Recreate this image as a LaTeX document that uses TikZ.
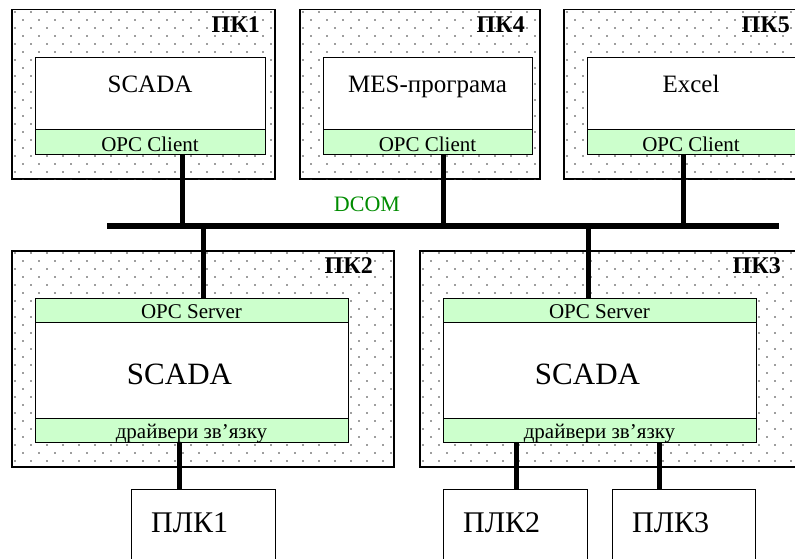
\documentclass[tikz,border=0pt]{standalone}
\usepackage{fontspec}
\setmainfont{Liberation Serif}
\usetikzlibrary{calc}
\definecolor{band}{RGB}{204,255,204}
\definecolor{dcomc}{RGB}{0,140,0}
\definecolor{dotc}{RGB}{60,60,60}
\tikzset{
  pcbox/.style={draw, line width=1.5pt, fill=white, inner sep=0pt, anchor=north west},
  appbox/.style={draw, line width=1.3pt, fill=white, inner sep=0pt, anchor=north west},
  bandbox/.style={draw, line width=1.3pt, fill=band, inner sep=0pt, anchor=north west},
  plcbox/.style={draw, line width=1.3pt, fill=white, inner sep=0pt, anchor=north west, minimum width=144pt, minimum height=120pt},
  conn/.style={line width=5pt},
  busline/.style={line width=6pt},
  pclabel/.style={font=\bfseries\fontsize{24}{24}\selectfont, inner sep=0pt, anchor=base east},
  apptxt/.style={font=\fontsize{25}{25}\selectfont, inner sep=0pt, anchor=base},
  bigtxt/.style={font=\fontsize{31}{31}\selectfont, inner sep=0pt, anchor=base},
  bandtxt/.style={font=\fontsize{21}{21}\selectfont, inner sep=0pt, anchor=base},
  plctxt/.style={font=\fontsize{30}{30}\selectfont, inner sep=0pt, anchor=base west},
}
% dots: node name, x0, y0, nx, ny
\newcommand\dotsin[5]{%
  \begin{scope}
    \clip (#1.north west) rectangle (#1.south east);
    \foreach \j in {0,...,#5} {
      \pgfmathsetmacro\yy{#3+3+8*\j}
      \pgfmathsetmacro\off{mod(\j,2)*8}
      \foreach \i in {0,...,#4} {
        \fill[dotc] ({#2+4+16*\i+\off},\yy) circle[radius=0.85pt];
      }
    }
  \end{scope}}
\begin{document}
\begin{tikzpicture}[x=1pt,y=-1pt]
\useasboundingbox (0,0) rectangle (795,559);
\clip (0,0) rectangle (795,559);

% ---- top row PCs ----
\node[pcbox, minimum width=263pt, minimum height=169pt] (pc1) at (11,9) {};
\dotsin{pc1}{11}{9}{16}{21}
\node[pcbox, minimum width=240pt, minimum height=169pt] (pc4) at (299,9) {};
\dotsin{pc4}{299}{9}{15}{21}
\node[pcbox, minimum width=241pt, minimum height=169pt] (pc5) at (563,9) {};
\dotsin{pc5}{563}{9}{15}{21}

\node[pclabel] (l1) at (260,33) {ПК1};
\node[pclabel] (l4) at (525,33) {ПК4};
\node[pclabel] (l5) at (790,33) {ПК5};

\node[appbox, minimum width=230pt, minimum height=72pt] (a1) at (35,57) {};
\node[bandbox, minimum width=230pt, minimum height=25pt] (c1) at (35,129) {};
\node[appbox, minimum width=209pt, minimum height=72pt] (a4) at (323,57) {};
\node[bandbox, minimum width=209pt, minimum height=25pt] (c4) at (323,129) {};
\node[appbox, minimum width=210pt, minimum height=72pt] (a5) at (587,57) {};
\node[bandbox, minimum width=210pt, minimum height=25pt] (c5) at (587,129) {};

\node[apptxt] (ta1) at (150,93) {SCADA};
\node[apptxt] (ta4) at (427.5,93) {MES-програма};
\node[apptxt] (ta5) at (691,93) {Excel};
\node[bandtxt] (tc1) at (150,151) {OPC Client};
\node[bandtxt] (tc4) at (427.5,151) {OPC Client};
\node[bandtxt] (tc5) at (691,151) {OPC Client};

% ---- bus ----
\coordinate (busL) at (107,226);
\coordinate (busR) at (779,226);
\draw[busline] (busL) -- (busR);
\node[font=\fontsize{22}{22}\selectfont, text=dcomc, inner sep=0pt, anchor=base] (dcom) at (367,211) {DCOM};

\coordinate (k1) at (182,226);
\coordinate (k4) at (443,226);
\coordinate (k5) at (683,226);
\draw[conn] (k1 |- c1.south) -- (k1);
\draw[conn] (k4 |- c4.south) -- (k4);
\draw[conn] (k5 |- c5.south) -- (k5);

% ---- bottom row PCs ----
\node[pcbox, minimum width=382pt, minimum height=216pt] (pc2) at (11,250) {};
\dotsin{pc2}{11}{250}{24}{27}
\node[pcbox, minimum width=382pt, minimum height=216pt] (pc3) at (419,250) {};
\dotsin{pc3}{419}{250}{24}{27}

\node[pclabel] (l2) at (373,273) {ПК2};
\node[pclabel] (l3) at (781,273) {ПК3};

\node[bandbox, minimum width=313pt, minimum height=24pt] (s2) at (35,298) {};
\node[appbox, minimum width=313pt, minimum height=96pt] (a2) at (35,322) {};
\node[bandbox, minimum width=313pt, minimum height=24pt] (d2) at (35,418) {};
\node[bandbox, minimum width=313pt, minimum height=24pt] (s3) at (443,298) {};
\node[appbox, minimum width=313pt, minimum height=96pt] (a3) at (443,322) {};
\node[bandbox, minimum width=313pt, minimum height=24pt] (d3) at (443,418) {};

\node[bandtxt] (ts2) at (191.5,318) {OPC Server};
\node[bandtxt] (ts3) at (599.5,318) {OPC Server};
\node[bigtxt] (tb2) at (179.5,384) {SCADA};
\node[bigtxt] (tb3) at (587.5,384) {SCADA};
\node[bandtxt] (td2) at (191.5,438) {драйвери зв’язку};
\node[bandtxt] (td3) at (599.5,438) {драйвери зв’язку};

\coordinate (k2) at (203,226);
\coordinate (k3) at (588,226);
\draw[conn] (k2) -- (k2 |- s2.north);
\draw[conn] (k3) -- (k3 |- s3.north);

% ---- PLCs ----
\node[plcbox] (p1) at (131,489) {};
\node[plcbox] (p2) at (443,489) {};
\node[plcbox, minimum width=143pt] (p3) at (612,489) {};
\node[plctxt] (tp1) at (151,532) {ПЛК1};
\node[plctxt] (tp2) at (463,532) {ПЛК2};
\node[plctxt] (tp3) at (632,532) {ПЛК3};

\coordinate (q1) at (179,489);
\coordinate (q2) at (516,489);
\coordinate (q3) at (659,489);
\draw[conn] (q1 |- d2.south) -- (q1 |- p1.north);
\draw[conn] (q2 |- d3.south) -- (q2 |- p2.north);
\draw[conn] (q3 |- d3.south) -- (q3 |- p3.north);
\end{tikzpicture}
\end{document}
